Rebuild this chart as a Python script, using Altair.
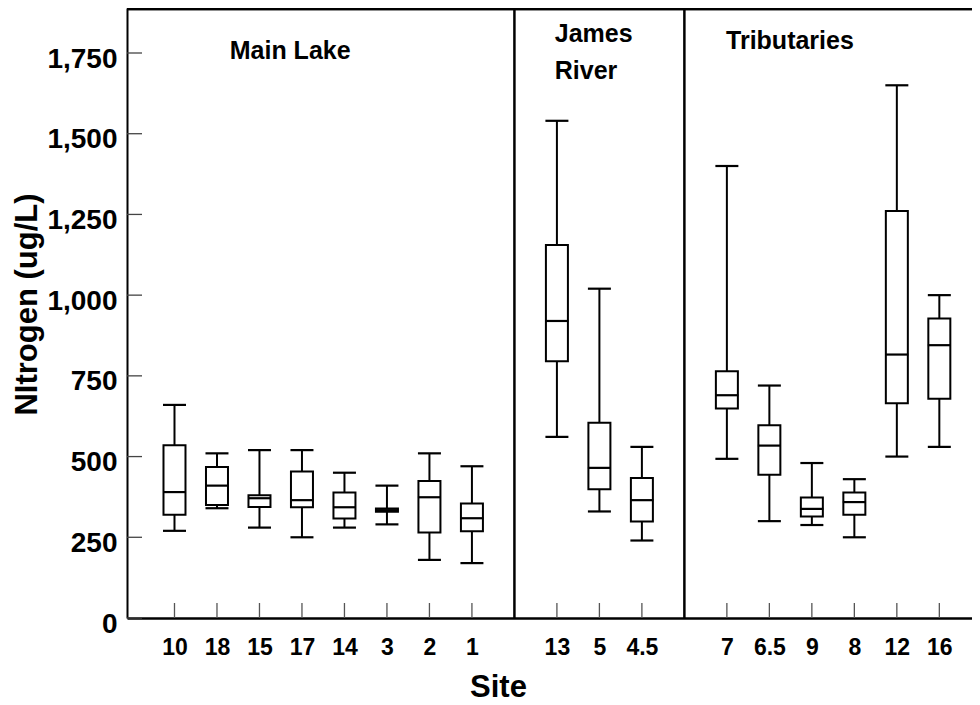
import altair as alt
import pandas as pd

# ---- data ----
sites = ["10", "18", "15", "17", "14", "3", "2", "1",
         "13", "5", "4.5",
         "7", "6.5", "9", "8", "12", "16"]
positions = [1, 2, 3, 4, 5, 6, 7, 8, 10, 11, 12, 14, 15, 16, 17, 18, 19]
whisker_low = [270, 340, 280, 250, 280, 290, 180, 170,
               561, 330, 240,
               493, 300, 288, 250, 500, 530]
q1 = [320, 350, 344, 343, 308, 329, 265, 269,
      795, 399, 299,
      649, 444, 314, 320, 665, 679]
median = [390, 410, 371, 365, 343, 334, 374, 309,
          920, 465, 365,
          690, 534, 338, 359, 816, 845]
q3 = [535, 468, 380, 454, 389, 339, 424, 355,
      1155, 605, 434,
      764, 597, 373, 389, 1261, 928]
whisker_high = [660, 510, 520, 520, 450, 410, 510, 470,
                1540, 1020, 530,
                1400, 720, 480, 430, 1650, 1000]

separators = [9, 13]
group_labels = ["Main Lake", "James", "River", "Tributaries"]
group_x = [2.30, 9.95, 9.95, 13.98]
group_y = [1731, 1784, 1669, 1763]
y_ticks = [0, 250, 500, 750, 1000, 1250, 1500, 1750]

W, H = 845, 610
XMAX = 845 / 43
YMAX = 610 / (565 / 1750)

df = pd.DataFrame({
    "site": sites, "pos": positions, "lo": whisker_low, "q1": q1,
    "med": median, "q3": q3, "hi": whisker_high,
})
sep_df = pd.DataFrame({"pos": separators})
lab_df = pd.DataFrame({"label": group_labels, "gx": group_x, "gy": group_y})
ytick_df = pd.DataFrame({"v": y_ticks})

label_list = [""] * 21
for s, p in zip(sites, positions):
    label_list[p] = s
label_expr = "[" + ",".join("'" + s + "'" for s in label_list) + "][datum.value]"

xscale = alt.Scale(domain=[0, XMAX], nice=False, zero=False)
yscale = alt.Scale(domain=[0, YMAX], nice=False, zero=True)

x_axis = alt.Axis(
    values=positions, labelExpr=label_expr, ticks=False, grid=False,
    domainColor="black", domainWidth=2.5, labelFontSize=23, labelFontWeight="bold",
    labelColor="black", labelPadding=36, labelBaseline="alphabetic",
    title="Site", titleFontSize=31, titleFontWeight="bold", titleColor="black",
    titleX=371, titleY=78, titleBaseline="alphabetic", titleAlign="center",
)
y_axis = alt.Axis(
    values=y_ticks, format=",d", ticks=False, grid=False,
    domainColor="black", domainWidth=2, labelFontSize=28, labelFontWeight="bold",
    labelColor="black", labelPadding=10, labelBaseline="alphabetic", labelOffset=14,
    title="NItrogen (ug/L)", titleFontSize=31, titleFontWeight="bold", titleColor="black",
    titleX=-91, titleY=296, titleBaseline="alphabetic", titleAlign="center", titleAngle=-90,
)

base = alt.Chart(df)

whisk_up = base.mark_rule(color="black", strokeWidth=2).encode(
    x=alt.X("pos:Q", scale=xscale, axis=x_axis),
    y=alt.Y("q3:Q", scale=yscale, axis=y_axis),
    y2="hi:Q",
)
whisk_dn = base.mark_rule(color="black", strokeWidth=2).encode(
    x="pos:Q", y="lo:Q", y2="q1:Q",
)
boxes = base.mark_bar(size=22, fill="white", stroke="black", strokeWidth=2, opacity=1).encode(
    x="pos:Q", y="q1:Q", y2="q3:Q",
)
tick_kw = dict(orient="horizontal", size=23, thickness=2.2, color="black", opacity=1)
med_t = base.mark_tick(**tick_kw).encode(x="pos:Q", y="med:Q")
hi_t = base.mark_tick(**tick_kw).encode(x="pos:Q", y="hi:Q")
lo_t = base.mark_tick(**tick_kw).encode(x="pos:Q", y="lo:Q")

xticks = base.mark_rule(color="#555", strokeWidth=1.3).encode(
    x="pos:Q", y=alt.value(H - 15), y2=alt.value(H),
)
yticks = alt.Chart(ytick_df).mark_rule(color="#444", strokeWidth=1.3).encode(
    y="v:Q", x=alt.value(0), x2=alt.value(15),
)
seps = alt.Chart(sep_df).mark_rule(color="black", strokeWidth=2.5).encode(
    x="pos:Q", y=alt.value(0), y2=alt.value(H),
)
top = alt.Chart(sep_df).mark_rule(color="black", strokeWidth=2.5).encode(
    x=alt.value(0), x2=alt.value(W), y=alt.value(1),
)
labels = alt.Chart(lab_df).mark_text(
    align="left", baseline="alphabetic", fontSize=25, fontWeight="bold", color="black",
).encode(x="gx:Q", y="gy:Q", text="label:N")

chart = alt.layer(
    whisk_up, whisk_dn, boxes, med_t, hi_t, lo_t, xticks, yticks, seps, top, labels
).properties(
    width=W, height=H,
    autosize=alt.AutoSizeParams(type="none"),
    padding={"left": 119, "top": 0, "right": 0, "bottom": 88},
).configure_view(stroke=None).configure(font="Liberation Sans", background="white")

chart.save("out.html", embed_options={"renderer": "svg", "actions": False})
